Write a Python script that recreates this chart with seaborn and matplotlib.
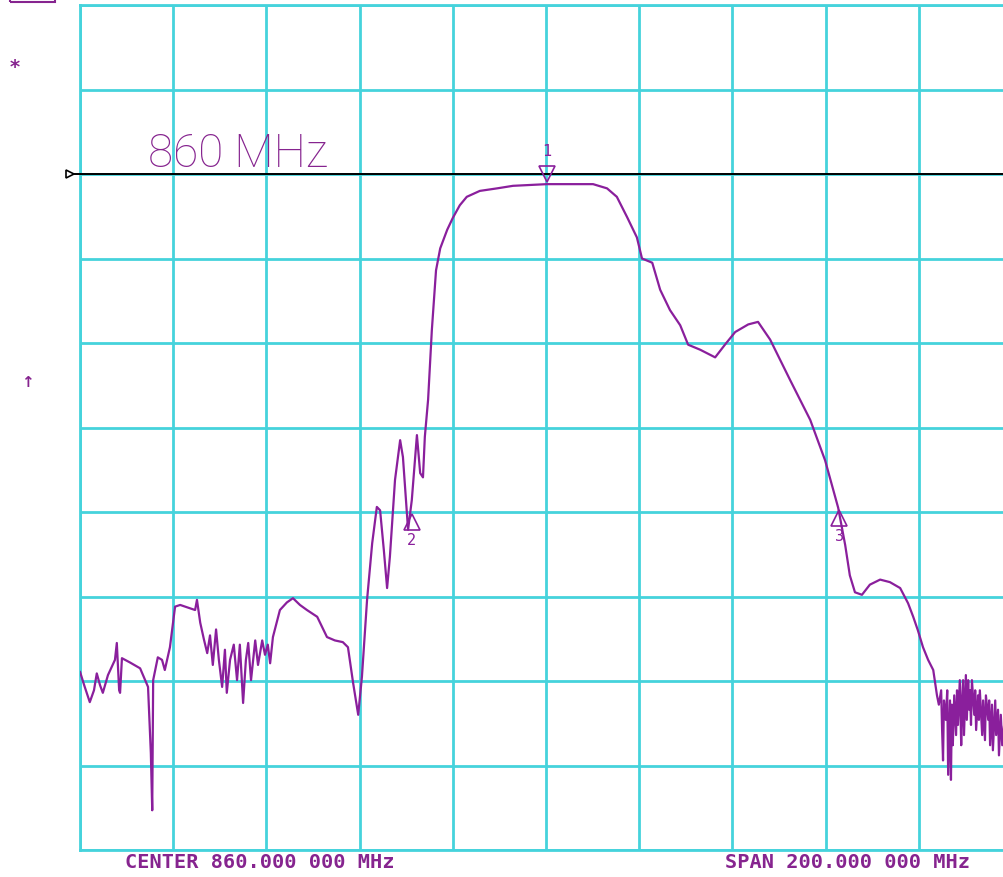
import numpy as np
import pandas as pd
import matplotlib
matplotlib.use("Agg")
import matplotlib.pyplot as plt
import matplotlib.transforms as mtransforms
from matplotlib.patches import Rectangle
import seaborn as sns

# ---------------- data ----------------
freq_mhz = [
    760.0, 760.9, 762.1, 763.0, 763.6, 764.3, 764.9, 766.0, 767.5, 767.9,
    768.4, 768.6, 769.0, 770.7, 772.9, 774.6, 775.2, 775.5, 775.7, 776.7,
    777.6, 778.2, 779.3, 780.4, 781.5, 783.6, 784.7, 785.1, 785.8, 786.6,
    787.3, 787.9, 788.5, 789.2, 789.8, 790.5, 791.1, 791.5, 792.2, 793.0,
    793.7, 794.3, 795.0, 795.6, 796.1, 796.7, 797.6, 798.2, 799.1, 799.7,
    800.3, 800.8, 801.4, 802.9, 804.4, 805.7, 807.2, 808.7, 810.9, 813.0,
    814.7, 816.4, 817.5, 818.6, 819.7, 820.5, 821.6, 822.7, 823.7, 824.4,
    825.2, 825.9, 826.5, 827.6, 828.7, 829.3, 830.4, 831.2, 832.3, 833.0,
    833.6, 834.0, 834.7, 835.5, 836.4, 837.3, 838.8, 840.0, 841.5, 843.0,
    845.8, 849.5, 852.9, 856.6, 860.2, 865.2, 870.1, 873.1, 875.2, 877.4,
    879.5, 880.6, 882.8, 884.5, 886.6, 888.8, 890.5, 893.1, 896.3, 898.4,
    900.6, 903.4, 905.5, 908.1, 912.4, 916.7, 919.9, 922.7, 924.2, 925.2,
    926.3, 927.8, 929.5, 931.7, 933.8, 936.0, 937.7, 938.8, 939.8, 940.9,
    942.0, 943.1, 943.9, 944.3, 944.8, 945.0, 945.2, 945.4, 945.8, 946.1,
    946.3, 946.7, 946.9, 947.1, 947.3, 947.6, 948.0, 948.2, 948.4, 948.8,
    949.1, 949.3, 949.5, 949.7, 950.1, 950.3, 950.6, 950.8, 951.0, 951.2,
    951.4, 951.9, 952.1, 952.3, 952.7, 952.9, 953.1, 953.6, 953.8, 954.2,
    954.4, 954.9, 955.1, 955.3, 955.7, 955.9, 956.4, 956.6, 957.0, 957.2,
    957.6, 957.9, 958.3,
]
level_db = [
    -58.9, -60.5, -62.5, -61.1, -59.1, -60.5, -61.4, -59.3, -57.5, -55.5,
    -61.1, -61.4, -57.3, -57.8, -58.5, -60.7, -68.5, -75.3, -59.9, -57.2,
    -57.5, -58.7, -56.0, -51.2, -51.0, -51.4, -51.6, -50.4, -53.1, -55.1,
    -56.7, -54.6, -58.1, -53.9, -57.5, -60.7, -56.3, -61.4, -57.5, -55.7,
    -59.9, -55.7, -62.6, -57.5, -55.5, -59.9, -55.2, -58.1, -55.2, -56.9,
    -55.7, -57.9, -54.8, -51.6, -50.7, -50.2, -51.0, -51.6, -52.4, -54.8,
    -55.2, -55.4, -56.0, -60.2, -64.0, -59.5, -50.4, -43.7, -39.4, -39.8,
    -44.5, -49.0, -45.3, -36.2, -31.5, -33.5, -42.1, -38.6, -30.9, -35.4,
    -35.9, -31.1, -26.7, -18.5, -11.4, -8.8, -6.6, -5.2, -3.7, -2.7,
    -2.0, -1.7, -1.4, -1.3, -1.2, -1.2, -1.2, -1.7, -2.7, -5.1,
    -7.5, -10.0, -10.5, -13.7, -16.1, -17.9, -20.2, -20.8, -21.7, -20.2,
    -18.7, -17.8, -17.5, -19.6, -24.4, -29.1, -33.9, -39.5, -43.9, -47.5,
    -49.5, -49.8, -48.6, -48.0, -48.3, -49.0, -50.8, -52.4, -54.0, -56.0,
    -57.5, -58.7, -61.7, -62.8, -61.1, -65.8, -69.4, -62.3, -64.6, -61.1,
    -71.1, -62.3, -71.7, -62.8, -67.6, -61.7, -66.4, -61.1, -65.2, -59.9,
    -67.6, -62.3, -59.9, -66.4, -59.3, -64.6, -59.9, -63.4, -61.1, -65.2,
    -59.9, -64.0, -61.1, -65.8, -61.7, -64.6, -61.1, -66.4, -62.3, -67.0,
    -61.7, -64.6, -62.3, -67.6, -62.8, -68.2, -62.3, -66.4, -63.4, -68.8,
    -64.0, -67.6, -65.2,
]
marker_ids = ["1", "2", "3"]
marker_freq = [860.2, 831.2, 922.9]
marker_level = [-1.2, -40.0, -39.6]
ref_level = 0.0
center_mhz = 860.0
span_mhz = 200.0
x_ticks = list(np.arange(760, 961, 20))
y_ticks = list(np.arange(-80, 21, 10))
title_text = "860 MHz"
center_text = "CENTER 860.000 000 MHz"
span_text = "SPAN 200.000 000 MHz"

# ---------------- styling ----------------
TRACE = "#8a1f9c"
TEXT = "#86248f"
GRID = "#45d3dc"

sns.set_theme(style="white")
plt.rcParams["font.family"] = ["DejaVu Sans"]

W, H = 1004, 877
fig = plt.figure(figsize=(W / 100, H / 100), dpi=100)
ax_l, ax_r, ax_t, ax_b = 80, 1004, 5, 850
ax = fig.add_axes([ax_l / W, (H - ax_b) / H, (ax_r - ax_l) / W, (ax_b - ax_t) / H])

df = pd.DataFrame({"freq": freq_mhz, "level": level_db})
sns.lineplot(data=df, x="freq", y="level", ax=ax, color=TRACE, lw=1.6,
             sort=False, estimator=None, zorder=4)

ax.set_xticks(x_ticks)
ax.set_yticks(y_ticks)
x_right = center_mhz - span_mhz / 2 + span_mhz * (ax_r - ax_l) / (1012 - ax_l)
ax.set_xlim(center_mhz - span_mhz / 2, x_right)
ax.set_ylim(min(y_ticks), max(y_ticks))
ax.tick_params(length=0, labelbottom=False, labelleft=False)
ax.set_xlabel("")
ax.set_ylabel("")
ax.grid(True, color=GRID, lw=2.0, zorder=1)
ax.set_axisbelow(True)
for side in ["left", "bottom", "top"]:
    ax.spines[side].set_color(GRID)
    ax.spines[side].set_linewidth(2.0)
ax.spines["right"].set_visible(False)
ax.set_facecolor("white")

# reference line
ax.axhline(ref_level, color="black", lw=1.4, zorder=3)
btrans = mtransforms.blended_transform_factory(ax.transAxes, ax.transData)
ax.plot([-10 / (ax_r - ax_l), 0], [ref_level, ref_level], color="black", lw=1.4,
        transform=btrans, clip_on=False, zorder=3)
ax.plot([-10 / (ax_r - ax_l)], [ref_level], marker=">", ms=6, mfc="white",
        mec="black", mew=1.2, transform=btrans, clip_on=False, zorder=5)

# markers
for i, (mid, mf, ml) in enumerate(zip(marker_ids, marker_freq, marker_level)):
    if i == 0:
        tr = mtransforms.offset_copy(ax.transData, fig=fig, x=0, y=7, units="points")
        ax.plot([mf], [ml], marker="v", ms=12, mfc="none", mec=TRACE, mew=1.2,
                transform=tr, zorder=6, clip_on=False)
        tr2 = mtransforms.offset_copy(ax.transData, fig=fig, x=0, y=18, units="points")
        ax.text(mf, ml, mid, transform=tr2, color=TRACE, fontsize=11,
                ha="center", va="bottom", family="DejaVu Sans Mono")
    else:
        tr = mtransforms.offset_copy(ax.transData, fig=fig, x=0, y=-7, units="points")
        ax.plot([mf], [ml], marker="^", ms=12, mfc="none", mec=TRACE, mew=1.2,
                transform=tr, zorder=6, clip_on=False)
        tr2 = mtransforms.offset_copy(ax.transData, fig=fig, x=0, y=-15, units="points")
        ax.text(mf, ml, mid, transform=tr2, color=TRACE, fontsize=11,
                ha="center", va="top", family="DejaVu Sans Mono")

# large frequency label
ax.text((148 - ax_l) / (ax_r - ax_l), (ax_b - 167) / (ax_b - ax_t), title_text,
        transform=ax.transAxes, color=TEXT, fontsize=33, family="Roboto",
        fontweight="light", ha="left", va="baseline", zorder=6)

# bottom annotations
fig.text(125 / W, (H - 862) / H, center_text, color=TEXT, fontsize=14.6,
         family="DejaVu Sans Mono", fontweight="bold", ha="left", va="center")
fig.text(725 / W, (H - 862) / H, span_text, color=TEXT, fontsize=14.6,
         family="DejaVu Sans Mono", fontweight="bold", ha="left", va="center")

# left side symbols
fig.text(15 / W, (H - 67) / H, "*", color=TEXT, fontsize=14, fontweight="bold",
         ha="center", va="center")
fig.text(27 / W, (H - 383) / H, "\u2191", color=TEXT, fontsize=11, fontweight="bold",
         ha="center", va="center")
fig.patches.append(Rectangle((10 / W, (H - 2) / H), 45 / W, 12 / H, fill=False,
                             edgecolor=TEXT, lw=1.5, transform=fig.transFigure,
                             figure=fig, clip_on=False))

fig.savefig("out.png", dpi=100, facecolor="white")
